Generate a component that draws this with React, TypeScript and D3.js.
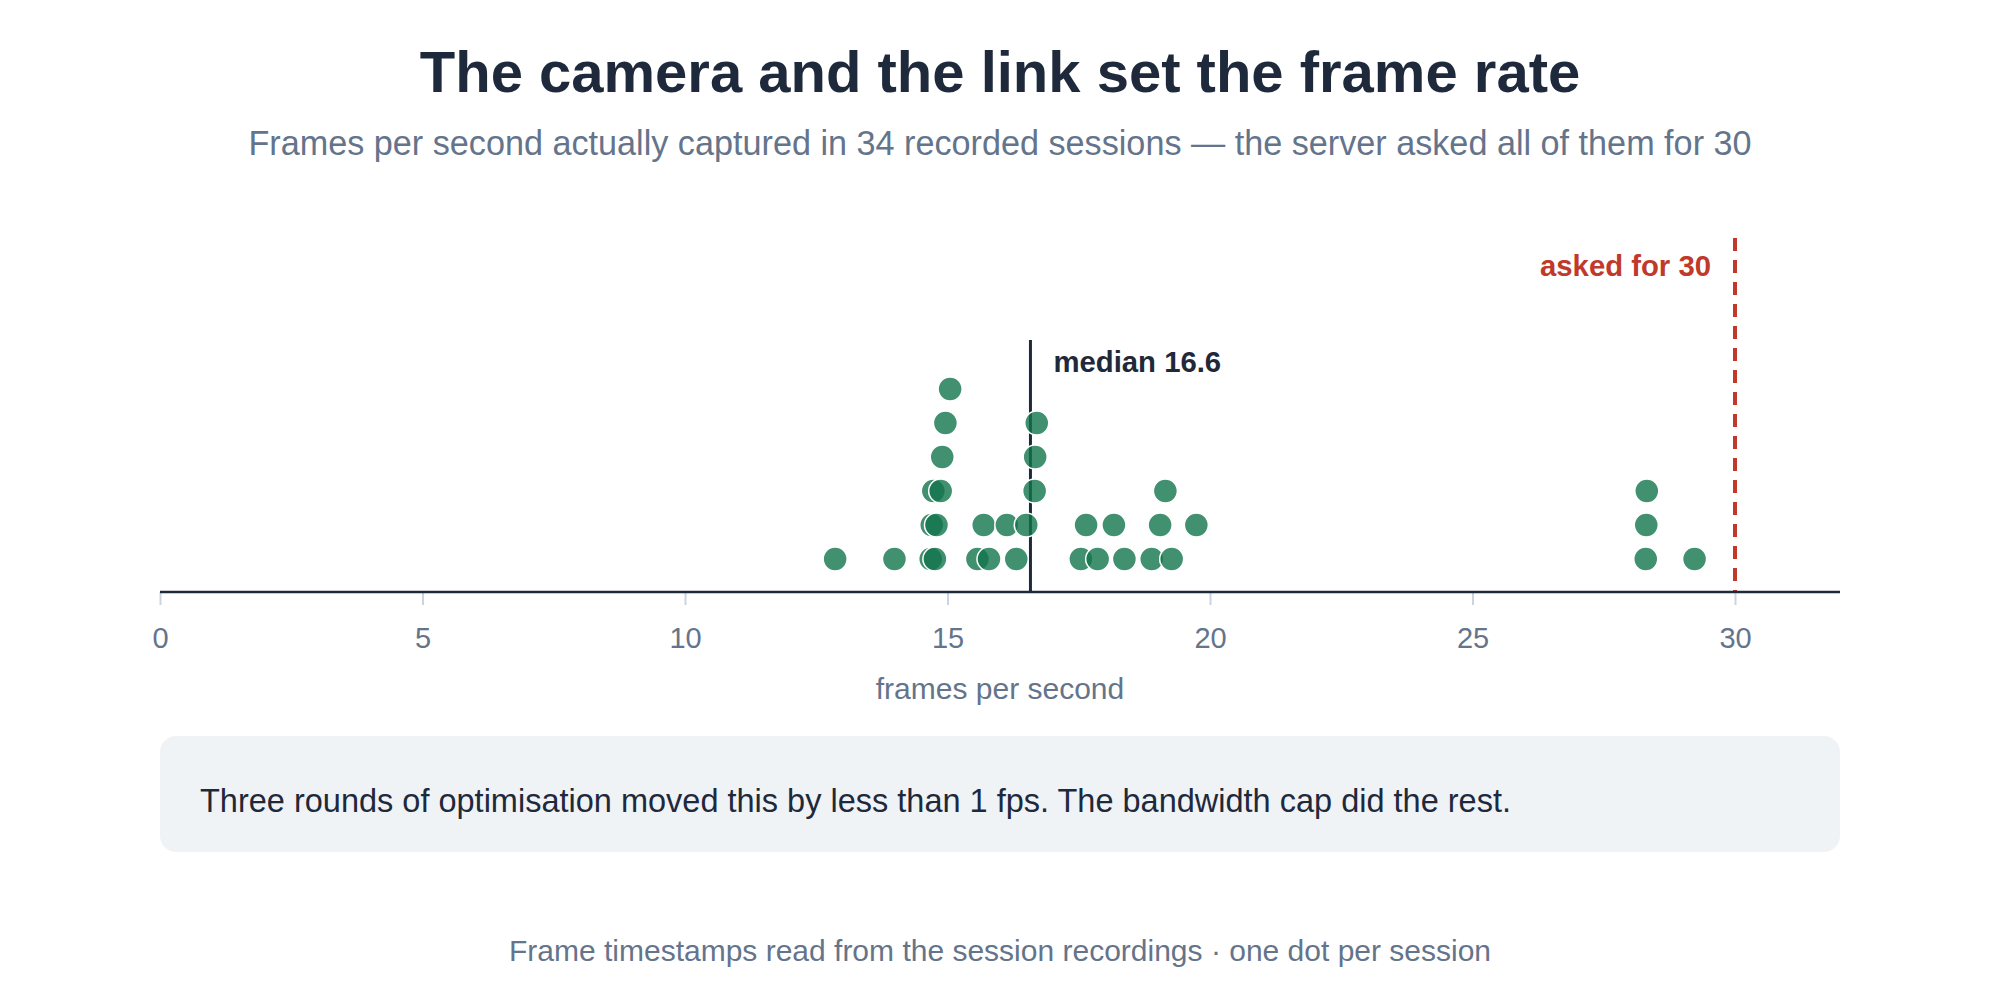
import { useEffect, useRef } from 'react';
import * as d3 from 'd3';

// frames per second captured, one value per recorded session (34)
const sessionFps = [
  12.86, 13.99, 14.68, 14.70, 14.73, 14.76, 14.79, 14.87, 14.90, 14.96, 15.05,
  15.57, 15.69, 15.79, 16.13, 16.31, 16.50, 16.66, 16.67, 16.70,
  17.54, 17.64, 17.86, 18.17, 18.37, 18.89, 19.05, 19.15, 19.27, 19.74,
  28.30, 28.31, 28.32, 29.23,
];
const requestedFps = 30;
const xTicks = [0, 5, 10, 15, 20, 25, 30];
const xDomain = [0, 32];
const binWidth = 0.5;

const title = 'The camera and the link set the frame rate';
const subtitle = 'Frames per second actually captured in 34 recorded sessions — the server asked all of them for 30';
const note = 'Three rounds of optimisation moved this by less than 1 fps. The bandwidth cap did the rest.';
const footer = 'Frame timestamps read from the session recordings · one dot per session';

const FONT = '"Liberation Sans", Helvetica, Arial, sans-serif';

export default function App() {
  const svgRef = useRef<SVGSVGElement>(null);
  const width = 2000;
  const height = 1000;

  useEffect(() => {
    if (!svgRef.current) return;
    const svg = d3.select(svgRef.current);
    svg.selectAll('*').remove();

    const axisY = 592;
    const rowStep = 34;
    const r = 12;

    const x = d3.scaleLinear().domain(xDomain).range([160, 1840]);

    svg.append('text')
      .attr('x', 1000).attr('y', 92)
      .attr('text-anchor', 'middle')
      .attr('font-family', FONT).attr('font-weight', 700).attr('font-size', 58)
      .attr('fill', '#1e293b')
      .text(title);

    svg.append('text')
      .attr('x', 1000).attr('y', 155)
      .attr('text-anchor', 'middle')
      .attr('font-family', FONT).attr('font-size', 34.2)
      .attr('fill', '#64748b')
      .text(subtitle);

    // stack dots inside half-fps bins, keep each dot at its real value
    const sorted = [...sessionFps].sort((a, b) => a - b);
    const bins = d3.bin()
      .domain(xDomain as [number, number])
      .thresholds(d3.range(binWidth / 2, xDomain[1], binWidth))(sorted);
    const dots: { v: number; level: number }[] = [];
    bins.forEach(b => b.forEach((v, i) => dots.push({ v, level: i })));
    dots.sort((a, b) => a.v - b.v);

    const median = d3.median(sessionFps) ?? 0;

    // median line sits behind the dots
    svg.append('line')
      .attr('x1', x(median)).attr('x2', x(median))
      .attr('y1', 340).attr('y2', axisY)
      .attr('stroke', '#1e293b').attr('stroke-width', 3);

    svg.append('text')
      .attr('x', x(median) + 23).attr('y', 372)
      .attr('font-family', FONT).attr('font-weight', 700).attr('font-size', 29.3)
      .attr('fill', '#1e293b')
      .text(`median ${median.toFixed(1)}`);

    svg.append('line')
      .attr('x1', x(requestedFps)).attr('x2', x(requestedFps))
      .attr('y1', 238).attr('y2', axisY)
      .attr('stroke', '#c0392b').attr('stroke-width', 4)
      .attr('stroke-dasharray', '13,9');

    svg.append('text')
      .attr('x', x(requestedFps) - 24).attr('y', 276)
      .attr('text-anchor', 'end')
      .attr('font-family', FONT).attr('font-weight', 700).attr('font-size', 29.3)
      .attr('fill', '#c0392b')
      .text(`asked for ${requestedFps}`);

    svg.append('g')
      .selectAll('circle')
      .data(dots)
      .enter()
      .append('circle')
      .attr('cx', d => x(d.v))
      .attr('cy', d => axisY - 33 - d.level * rowStep)
      .attr('r', r)
      .attr('fill', '#12744c')
      .attr('fill-opacity', 0.8)
      .attr('stroke', '#fff')
      .attr('stroke-width', 1.5);

    const axis = d3.axisBottom(x)
      .tickValues(xTicks)
      .tickSize(13)
      .tickPadding(22)
      .tickFormat(d => `${d}`);

    const g = svg.append('g')
      .attr('transform', `translate(0,${axisY})`)
      .call(axis);
    g.select('.domain').remove();
    g.selectAll('.tick line').attr('stroke', '#cbd5e1').attr('stroke-width', 2);
    g.selectAll('.tick text')
      .attr('fill', '#64748b')
      .attr('font-family', FONT)
      .attr('font-size', 29);

    svg.append('line')
      .attr('x1', x(xDomain[0])).attr('x2', x(xDomain[1]))
      .attr('y1', axisY).attr('y2', axisY)
      .attr('stroke', '#1e293b').attr('stroke-width', 2.5);

    svg.append('text')
      .attr('x', 1000).attr('y', 699)
      .attr('text-anchor', 'middle')
      .attr('font-family', FONT).attr('font-size', 30)
      .attr('fill', '#64748b')
      .text('frames per second');

    svg.append('rect')
      .attr('x', 160).attr('y', 736)
      .attr('width', 1680).attr('height', 116)
      .attr('rx', 16)
      .attr('fill', '#f0f3f6');

    svg.append('text')
      .attr('x', 200).attr('y', 812)
      .attr('font-family', FONT).attr('font-size', 32.5)
      .attr('fill', '#1e293b')
      .text(note);

    svg.append('text')
      .attr('x', 1000).attr('y', 961)
      .attr('text-anchor', 'middle')
      .attr('font-family', FONT).attr('font-size', 30)
      .attr('fill', '#64748b')
      .text(footer);
  }, []);

  return (
    <svg
      ref={svgRef}
      width={width}
      height={height}
      style={{ position: 'absolute', left: 0, top: 0, background: '#fff' }}
    />
  );
}
